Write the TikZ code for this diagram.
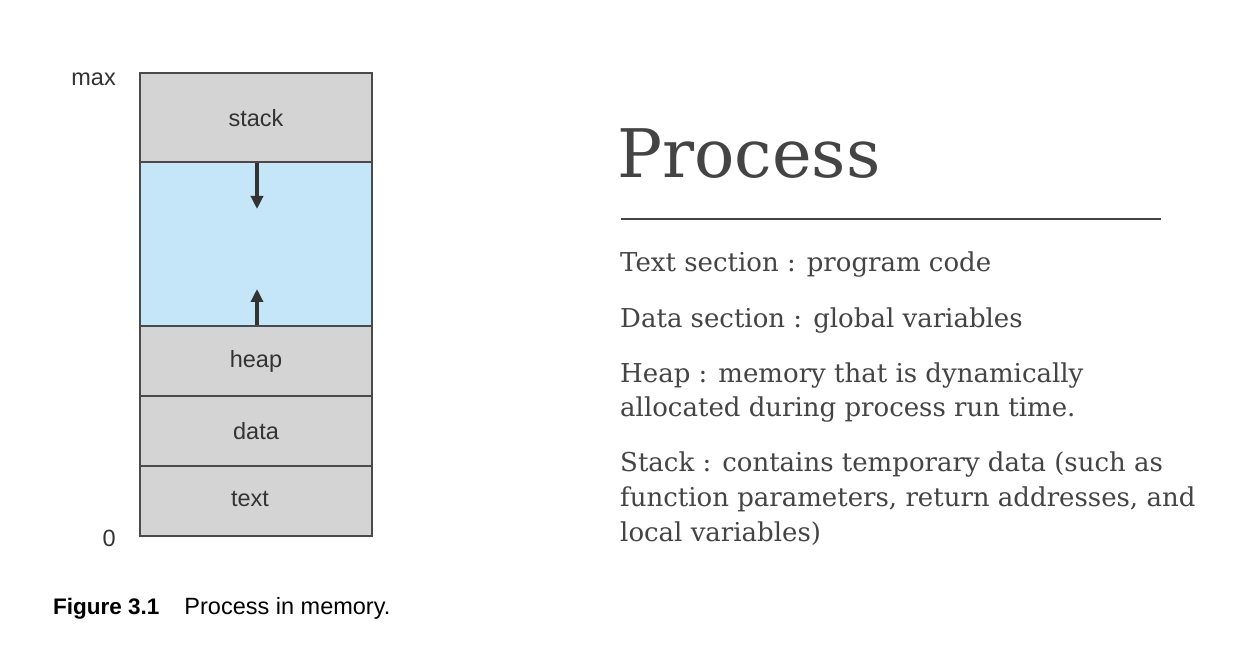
\documentclass[tikz,border=0pt]{standalone}
\usepackage{fontspec}
\setmainfont{DejaVu Serif}
\newfontfamily\labelfont{Liberation Sans}
\usetikzlibrary{arrows.meta}
\definecolor{segfill}{HTML}{D4D4D4}
\definecolor{freefill}{HTML}{C5E6F8}
\definecolor{edge}{HTML}{4A4A4A}
\definecolor{ink}{HTML}{333333}
\definecolor{bodyink}{HTML}{444444}
\tikzset{
  seg/.style={draw=edge, line width=1.2pt, fill=segfill},
  freeseg/.style={draw=edge, line width=1.2pt, fill=freefill},
  memlabel/.style={font=\labelfont\fontsize{23.5}{28}\selectfont, text=ink, inner sep=0pt},
  bodyline/.style={font=\fontsize{26}{31}\selectfont, text=bodyink, anchor=base west, inner sep=0pt},
  growarrow/.style={line width=3.5pt, draw=ink, -{Triangle[length=13pt,width=12pt]}},
}
\begin{document}
\begin{tikzpicture}[x=1pt,y=-1pt]
\useasboundingbox[fill=white] (0,0) rectangle (1253,668);
% memory layout
\draw[seg] (140,73) rectangle (372,162);
\draw[freeseg] (140,162) rectangle (372,326);
\draw[seg] (140,326) rectangle (372,396);
\draw[seg] (140,396) rectangle (372,466);
\draw[seg] (140,466) rectangle (372,536);
\node[memlabel] (stack) at (256,118) {stack};
\node[memlabel] (heap) at (256,361) {heap};
\node[memlabel] (data) at (256,431) {data};
\node[memlabel] (text) at (250,499) {text};
\node[memlabel, anchor=east] (max) at (116,79) {max};
\node[memlabel, anchor=east] (zero) at (116,538) {0};
\coordinate (stacktop) at (257,163);
\coordinate (stackend) at (257,209);
\coordinate (heaptop) at (257,325);
\coordinate (heapend) at (257,289);
\draw[growarrow] (stacktop) -- (stackend);
\draw[growarrow] (heaptop) -- (heapend);
\node[memlabel, anchor=base west, text=black] (caption) at (53,614) {{\fontsize{22.5}{27}\selectfont\textbf{Figure 3.1}}\hspace{25pt}Process in memory.};
% right side
\node[bodyline, font=\fontsize{67}{70}\selectfont] (title) at (617,178) {Process};
\coordinate (ruleA) at (621,219);
\coordinate (ruleB) at (1161,219);
\draw[draw=bodyink, line width=1.3pt] (ruleA) -- (ruleB);
\node[bodyline] (l1) at (620,272) {Text section : program code};
\node[bodyline] (l2) at (620,327) {Data section : global variables};
\node[bodyline] (l3) at (620,382) {Heap : memory that is dynamically};
\node[bodyline] (l4) at (620,416) {allocated during process run time.};
\node[bodyline] (l5) at (620,471) {Stack : contains temporary data (such as};
\node[bodyline] (l6) at (620,506) {function parameters, return addresses, and};
\node[bodyline] (l7) at (620,541) {local variables)};
\end{tikzpicture}
\end{document}
